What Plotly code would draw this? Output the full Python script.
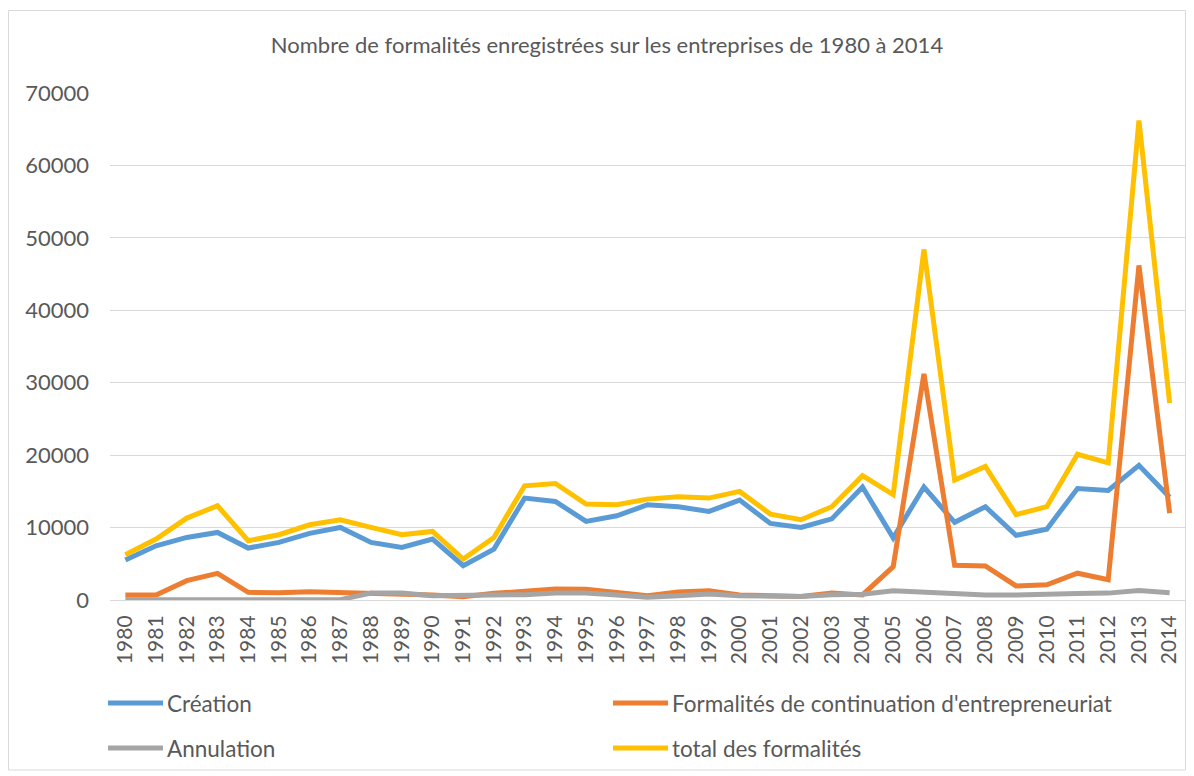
import plotly.graph_objects as go

years = [str(y) for y in range(1980, 2015)]

creation = [5520, 7490, 8640, 9330, 7170, 7950, 9200, 10020, 7950, 7260,
            8410, 4740, 7030, 14070, 13610, 10850, 11630, 13150, 12870, 12230,
            13790, 10570, 10020, 11200, 15600, 8580, 15600, 10730, 12880, 8920,
            9780, 15400, 15120, 18600, 14200]

continuation = [690, 690, 2670, 3680, 1060, 1010, 1150, 1060, 830, 740,
                700, 460, 920, 1200, 1520, 1470, 1060, 600, 1100, 1290,
                700, 650, 500, 950, 700, 4600, 31230, 4800, 4700, 1950,
                2100, 3700, 2800, 46200, 12000]

annulation = [50, 50, 50, 50, 50, 50, 50, 50, 970, 970,
              600, 600, 690, 740, 970, 970, 690, 370, 600, 830,
              600, 600, 500, 740, 800, 1290, 1100, 900, 700, 700,
              850, 900, 950, 1300, 1000]

total = [6250, 8410, 11310, 13010, 8180, 9010, 10390, 11080, 10020, 9010,
         9470, 5650, 8640, 15770, 16090, 13240, 13150, 13930, 14250, 14070,
         14990, 11860, 11080, 12880, 17170, 14540, 48400, 16550, 18450, 11780,
         12880, 20120, 18930, 66200, 27200]

names = ["Création", "Formalités de continuation d'entrepreneuriat",
         "Annulation", "total des formalités"]
colors = ["#5B9BD5", "#ED7D31", "#A5A5A5", "#FFC000"]
series = [creation, continuation, annulation, total]

# page body has an 8px margin; work in page pixels and convert
OFF = 8
W, H = 1194 - OFF, 776 - OFF
PL, PR, PT, PB = 110, 1185, 93, 600   # plot area in page pixels
L, R, T, B = PL - OFF, W - (PR - OFF), PT - OFF, H - (PB - OFF)
pw, ph = PR - PL, PB - PT

def px(x):
    return (x - PL) / pw

def py(y):
    return (PB - y) / ph

FONT = "Lato"
TXT = "#595959"
LW = 5

fig = go.Figure()
for name, vals, col in zip(names, series, colors):
    fig.add_trace(go.Scatter(x=years, y=vals, mode="lines", name=name,
                             line=dict(color=col, width=LW), showlegend=False))

shapes = [dict(type="rect", xref="paper", yref="paper",
               x0=px(8.5), x1=px(1185.5), y0=py(770), y1=py(10.5),
               line=dict(color="#D9D9D9", width=1), fillcolor="rgba(0,0,0,0)",
               layer="below")]
annotations = []
legend_pos = [(108, 703), (613, 703), (108, 748), (613, 748)]
for (lx, ly), name, col in zip(legend_pos, names, colors):
    shapes.append(dict(type="line", xref="paper", yref="paper",
                       x0=px(lx), x1=px(lx + 55), y0=py(ly), y1=py(ly),
                       line=dict(color=col, width=LW)))
    annotations.append(dict(xref="paper", yref="paper", x=px(lx + 57), y=py(ly),
                            text=name, showarrow=False, xanchor="left",
                            yanchor="middle",
                            font=dict(family=FONT, size=22.5, color=TXT)))

fig.update_layout(
    width=W, height=H,
    margin=dict(l=L, r=R, t=T, b=B),
    paper_bgcolor="white", plot_bgcolor="white",
    title=dict(text="Nombre de formalités enregistrées sur les entreprises de 1980 à 2014",
               x=(607 - OFF) / W, xref="container", xanchor="center",
               y=1 - (45 - OFF) / H, yref="container", yanchor="middle",
               font=dict(family=FONT, size=22, color=TXT)),
    font=dict(family=FONT, color=TXT),
    shapes=shapes, annotations=annotations,
    showlegend=False,
)
fig.update_xaxes(type="category", range=[-0.5, 34.5], tickangle=-90,
                 tickfont=dict(family=FONT, size=21, color=TXT),
                 showgrid=False, showline=True, linecolor="#D9D9D9",
                 ticks="", ticklabelstandoff=6)
fig.update_yaxes(range=[0, 70000], dtick=10000, tickformat="d",
                 tickfont=dict(family=FONT, size=22, color=TXT),
                 showgrid=True, gridcolor="#D9D9D9", gridwidth=1,
                 zeroline=False, showline=False, ticks="",
                 ticklabelstandoff=20)

fig.write_html("out.html")
